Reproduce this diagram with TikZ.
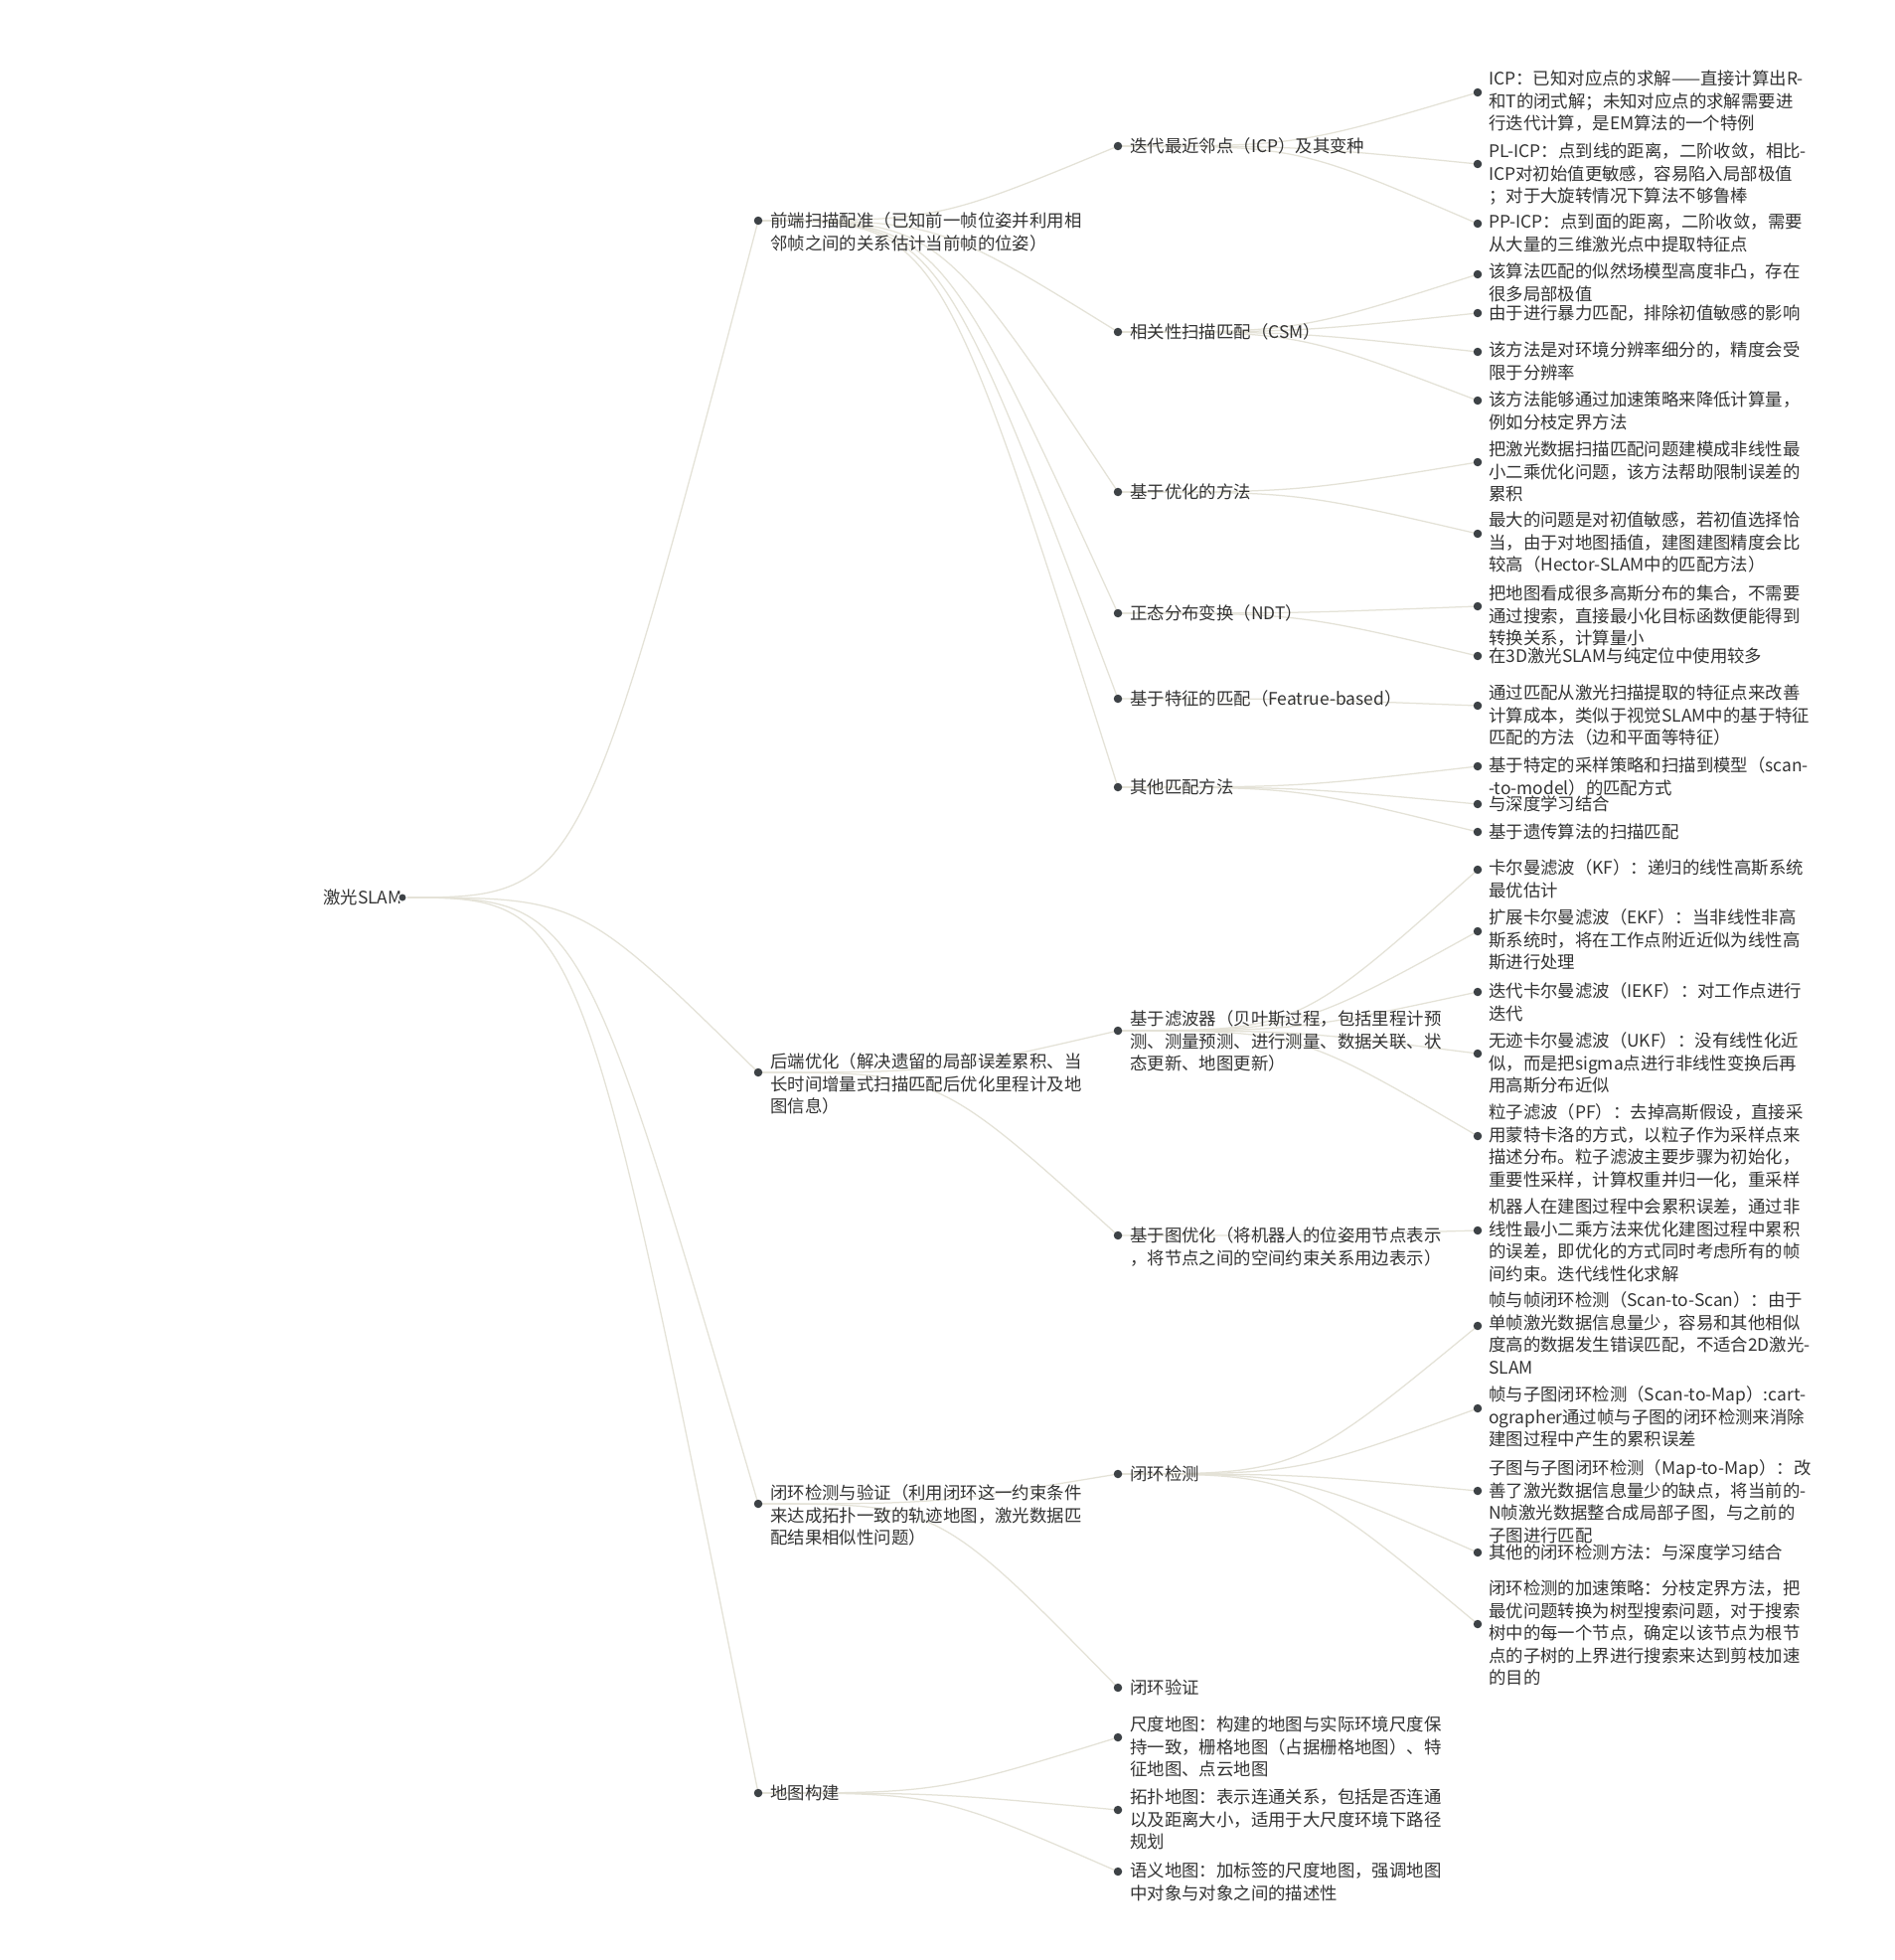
\documentclass[tikz,border=0pt]{standalone}
\usepackage{fontspec}
\setmainfont{Noto Sans CJK SC}
\usetikzlibrary{backgrounds,calc}
\definecolor{txtc}{HTML}{333333}
\definecolor{dotc}{HTML}{3D4246}
\definecolor{linkc}{HTML}{E4E2D7}
\tikzset{
  dotnode/.style={circle, fill=dotc, inner sep=0pt, minimum size=8.5pt},
  topic/.style={anchor=north west, inner sep=0pt, align=left, text=txtc,
    font=\fontsize{17.4}{22.5}\selectfont},
  linkline/.style={draw=linkc, line width=1.25pt},
}
% fixed first-line height, so the top of every text block sits 17pt above its first baseline
\newcommand\fl{\rule{0pt}{17pt}}
% a topic: name, dot x, dot y, first text line y, text x, text
\newcommand\tnode[6]{%
  \node[dotnode] (d#1) at (#2,#3) {};
  \node[topic] (t#1) at (#5,{#4+6.5-17}) {\fl#6};}
% curved connector between two dots (quadratic, horizontal start)
\newcommand\tlink[2]{%
  \path (d#1.center) -- coordinate[pos=0.5] (m#1#2) (d#2.center);
  \draw[linkline] (d#1.center) .. controls (m#1#2 |- d#1.center) .. (d#2.center);}
\begin{document}
\begin{tikzpicture}[x=1pt,y=-1pt]
\useasboundingbox (0,0) rectangle (1906,1972);

% root
\node[topic] (troot) at (325,{903+6.5-17}) {\fl 激光SLAM};
\node[dotnode, draw=white, line width=1.2pt] (droot) at (405,903) {};

% first level
\tnode{A}{763}{222}{222}{775}{前端扫描配准（已知前一帧位姿并利用相\\邻帧之间的关系估计当前帧的位姿）}
\tnode{B}{763}{1079}{1068}{775}{后端优化（解决遗留的局部误差累积、当\\长时间增量式扫描匹配后优化里程计及地\\图信息）}
\tnode{C}{763}{1513}{1502}{775}{闭环检测与验证（利用闭环这一约束条件\\来达成拓扑一致的轨迹地图，激光数据匹\\配结果相似性问题）}
\tnode{D}{763}{1804}{1804}{775}{地图构建}

% second level
\tnode{Aa}{1125}{147}{147}{1137}{迭代最近邻点（ICP）及其变种}
\tnode{Ab}{1125}{334}{334}{1137}{相关性扫描匹配（CSM）}
\tnode{Ac}{1125}{495}{495}{1137}{基于优化的方法}
\tnode{Ad}{1125}{617}{617}{1137}{正态分布变换（NDT）}
\tnode{Ae}{1125}{703}{703}{1137}{基于特征的匹配（Featrue-based）}
\tnode{Af}{1125}{792}{792}{1137}{其他匹配方法}
\tnode{Ba}{1125}{1037}{1025}{1137}{基于滤波器（贝叶斯过程，包括里程计预\\测、测量预测、进行测量、数据关联、状\\态更新、地图更新）}
\tnode{Bb}{1125}{1243}{1243}{1137}{基于图优化（将机器人的位姿用节点表示\\，将节点之间的空间约束关系用边表示）}
\tnode{Ca}{1125}{1483}{1483}{1137}{闭环检测}
\tnode{Cb}{1125}{1698}{1698}{1137}{闭环验证}
\tnode{Da}{1125}{1748}{1735}{1137}{尺度地图：构建的地图与实际环境尺度保\\持一致，栅格地图（占据栅格地图）、特\\征地图、点云地图}
\tnode{Db}{1125}{1821}{1808}{1137}{拓扑地图：表示连通关系，包括是否连通\\以及距离大小，适用于大尺度环境下路径\\规划}
\tnode{Dc}{1125}{1883}{1882}{1137}{语义地图：加标签的尺度地图，强调地图\\中对象与对象之间的描述性}

% third level
\tnode{Aa1}{1487}{93}{79}{1498}{ICP：已知对应点的求解——直接计算出R-\\和T的闭式解；未知对应点的求解需要进\\行迭代计算，是EM算法的一个特例}
\tnode{Aa2}{1487}{165}{152}{1498}{PL-ICP：点到线的距离，二阶收敛，相比-\\ICP对初始值更敏感，容易陷入局部极值\\；对于大旋转情况下算法不够鲁棒}
\tnode{Aa3}{1487}{225}{223}{1498}{PP-ICP：点到面的距离，二阶收敛，需要\\从大量的三维激光点中提取特征点}
\tnode{Ab1}{1487}{276}{273}{1498}{该算法匹配的似然场模型高度非凸，存在\\很多局部极值}
\tnode{Ab2}{1487}{315}{315}{1498}{由于进行暴力匹配，排除初值敏感的影响}
\tnode{Ab3}{1487}{354}{352}{1498}{该方法是对环境分辨率细分的，精度会受\\限于分辨率}
\tnode{Ab4}{1487}{403}{402}{1498}{该方法能够通过加速策略来降低计算量，\\例如分枝定界方法}
\tnode{Ac1}{1487}{465}{452}{1498}{把激光数据扫描匹配问题建模成非线性最\\小二乘优化问题，该方法帮助限制误差的\\累积}
\tnode{Ac2}{1487}{537}{523}{1498}{最大的问题是对初值敏感，若初值选择恰\\当，由于对地图插值，建图建图精度会比\\较高（Hector-SLAM中的匹配方法）}
\tnode{Ad1}{1487}{610}{597}{1498}{把地图看成很多高斯分布的集合，不需要\\通过搜索，直接最小化目标函数便能得到\\转换关系，计算量小}
\tnode{Ad2}{1487}{660}{660}{1498}{在3D激光SLAM与纯定位中使用较多}
\tnode{Ae1}{1487}{710}{697}{1498}{通过匹配从激光扫描提取的特征点来改善\\计算成本，类似于视觉SLAM中的基于特征\\匹配的方法（边和平面等特征）}
\tnode{Af1}{1487}{771}{770}{1498}{基于特定的采样策略和扫描到模型（scan-\\-to-model）的匹配方式}
\tnode{Af2}{1487}{809}{809}{1498}{与深度学习结合}
\tnode{Af3}{1487}{837}{837}{1498}{基于遗传算法的扫描匹配}
\tnode{Ba1}{1487}{875}{873}{1498}{卡尔曼滤波（KF）：递归的线性高斯系统\\最优估计}
\tnode{Ba2}{1487}{937}{923}{1498}{扩展卡尔曼滤波（EKF）：当非线性非高\\斯系统时，将在工作点附近近似为线性高\\斯进行处理}
\tnode{Ba3}{1487}{998}{997}{1498}{迭代卡尔曼滤波（IEKF）：对工作点进行\\迭代}
\tnode{Ba4}{1487}{1060}{1047}{1498}{无迹卡尔曼滤波（UKF）：没有线性化近\\似，而是把sigma点进行非线性变换后再\\用高斯分布近似}
\tnode{Ba5}{1487}{1143}{1119}{1498}{粒子滤波（PF）：去掉高斯假设，直接采\\用蒙特卡洛的方式，以粒子作为采样点来\\描述分布。粒子滤波主要步骤为初始化，\\重要性采样，计算权重并归一化，重采样}
\tnode{Bb1}{1487}{1238}{1214}{1498}{机器人在建图过程中会累积误差，通过非\\线性最小二乘方法来优化建图过程中累积\\的误差，即优化的方式同时考虑所有的帧\\间约束。迭代线性化求解}
\tnode{Ca1}{1487}{1334}{1308}{1498}{帧与帧闭环检测（Scan-to-Scan）：由于\\单帧激光数据信息量少，容易和其他相似\\度高的数据发生错误匹配，不适合2D激光-\\SLAM}
\tnode{Ca2}{1487}{1417}{1403}{1498}{帧与子图闭环检测（Scan-to-Map）:cart-\\ographer通过帧与子图的闭环检测来消除\\建图过程中产生的累积误差}
\tnode{Ca3}{1487}{1500}{1477}{1498}{子图与子图闭环检测（Map-to-Map）：改\\善了激光数据信息量少的缺点，将当前的-\\N帧激光数据整合成局部子图，与之前的\\子图进行匹配}
\tnode{Ca4}{1487}{1562}{1562}{1498}{其他的闭环检测方法：与深度学习结合}
\tnode{Ca5}{1487}{1634}{1598}{1498}{闭环检测的加速策略：分枝定界方法，把\\最优问题转换为树型搜索问题，对于搜索\\树中的每一个节点，确定以该节点为根节\\点的子树的上界进行搜索来达到剪枝加速\\的目的}

% white page and connectors, drawn behind the topics
\begin{pgfonlayer}{background}
\fill[white] (0,0) rectangle (1906,1972);
\foreach \c in {A,B,C,D}{\tlink{root}{\c}}
\foreach \c in {Aa,Ab,Ac,Ad,Ae,Af}{\tlink{A}{\c}}
\foreach \c in {Ba,Bb}{\tlink{B}{\c}}
\foreach \c in {Ca,Cb}{\tlink{C}{\c}}
\foreach \c in {Da,Db,Dc}{\tlink{D}{\c}}
\foreach \c in {1,2,3}{\tlink{Aa}{Aa\c}}
\foreach \c in {1,2,3,4}{\tlink{Ab}{Ab\c}}
\foreach \c in {1,2}{\tlink{Ac}{Ac\c}}
\foreach \c in {1,2}{\tlink{Ad}{Ad\c}}
\tlink{Ae}{Ae1}
\foreach \c in {1,2,3}{\tlink{Af}{Af\c}}
\foreach \c in {1,2,3,4,5}{\tlink{Ba}{Ba\c}}
\tlink{Bb}{Bb1}
\foreach \c in {1,2,3,4,5}{\tlink{Ca}{Ca\c}}
\end{pgfonlayer}
\end{tikzpicture}
\end{document}
